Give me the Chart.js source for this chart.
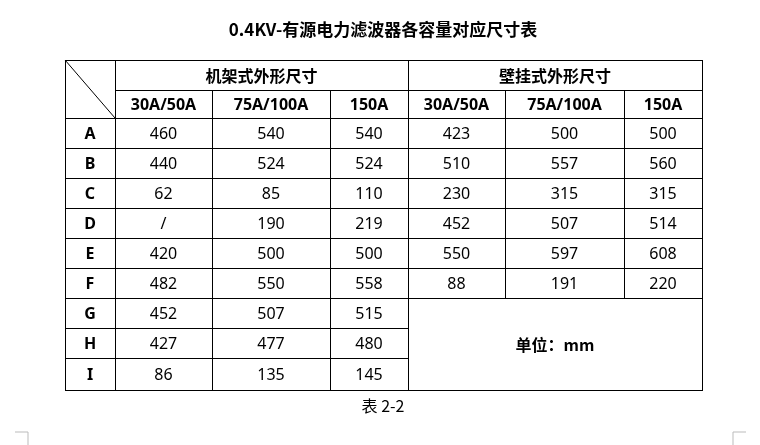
<!DOCTYPE html>
<html><head><meta charset="utf-8">
<script src="https://cdn.jsdelivr.net/npm/chart.js"></script>
<style>html,body{margin:0;padding:0;background:#fff}#w{width:760px;height:445px}</style>
</head><body><div id="w"><canvas id="c"></canvas></div>
<script>
const title = "0.4KV-有源电力滤波器各容量对应尺寸表";
const caption = "表 2-2";
const groups = ["机架式外形尺寸", "壁挂式外形尺寸"];
const sizes = ["30A/50A", "75A/100A", "150A", "30A/50A", "75A/100A", "150A"];
const rowLabels = ["A","B","C","D","E","F","G","H","I"];
const rackValues = [
  ["460","540","540"],["440","524","524"],["62","85","110"],["/","190","219"],
  ["420","500","500"],["482","550","558"],["452","507","515"],["427","477","480"],["86","135","145"]
];
const wallValues = [
  ["423","500","500"],["510","557","560"],["230","315","315"],["452","507","514"],
  ["550","597","608"],["88","191","220"]
];
const unitText = "单位：mm";

// layout (pixel-like units on hidden linear scales)
const colX = [65,115,212,330,408,505,624,702];
const rowY = [60,90,118,148,178,208,238,268,298,328,358,390];

const tablePlugin = {
  id:'table',
  afterDraw(chart){
    const ctx = chart.ctx, xs = chart.scales.x, ys = chart.scales.y;
    const X = v=>xs.getPixelForValue(v), Y = v=>ys.getPixelForValue(v);
    const CJK = '"Noto Sans CJK SC", "Noto Sans", sans-serif';
    const NUM = '"Noto Sans", "Open Sans", sans-serif';
    ctx.save();
    ctx.strokeStyle = '#000'; ctx.lineWidth = 1; ctx.fillStyle = '#000';
    ctx.textAlign = 'center'; ctx.textBaseline = 'middle';
    function cell(c0,c1,r0,r1,text,font){
      const x0=X(colX[c0]),x1=X(colX[c1]),y0=Y(rowY[r0]),y1=Y(rowY[r1]);
      ctx.strokeRect(Math.round(x0)+0.5,Math.round(y0)+0.5,Math.round(x1-x0),Math.round(y1-y0));
      if(text!==undefined){ctx.font=font;ctx.fillText(text,(x0+x1)/2,(y0+y1)/2+1);}
    }
    // title
    ctx.font = 'bold 17px '+CJK;
    ctx.fillText(title, X(383), Y(30));
    // corner
    cell(0,1,0,2);
    ctx.beginPath(); ctx.moveTo(X(colX[0]),Y(rowY[0])); ctx.lineTo(X(colX[1]),Y(rowY[2])); ctx.stroke();
    cell(1,4,0,1,groups[0],'bold 16px '+CJK);
    cell(4,7,0,1,groups[1],'bold 16px '+CJK);
    sizes.forEach((s,i)=>cell(i+1,i+2,1,2,s,'bold 16px '+NUM));
    rowLabels.forEach((l,r)=>{
      cell(0,1,r+2,r+3,l,'bold 16px '+NUM);
      rackValues[r].forEach((v,c)=>cell(c+1,c+2,r+2,r+3,v,'16px '+NUM));
      if(r<wallValues.length) wallValues[r].forEach((v,c)=>cell(c+4,c+5,r+2,r+3,v,'16px '+NUM));
    });
    cell(4,7,2+wallValues.length,2+rowLabels.length,unitText,'bold 16px '+CJK);
    ctx.font = '16px '+CJK;
    ctx.fillText(caption, X(383), Y(406));
    // page corner marks
    ctx.strokeStyle='#bbb';
    ctx.beginPath();
    ctx.moveTo(X(28),Y(432));ctx.lineTo(X(28),Y(445));
    ctx.moveTo(X(15),Y(432));ctx.lineTo(X(28),Y(432));
    ctx.moveTo(X(733),Y(432));ctx.lineTo(X(733),Y(445));
    ctx.moveTo(X(733),Y(432));ctx.lineTo(X(746),Y(432));
    ctx.stroke();
    ctx.restore();
  }
};

new Chart(document.getElementById('c'),{
  type:'scatter',
  data:{datasets:[{data:[]}]},
  options:{
    responsive:true, maintainAspectRatio:false, animation:false,
    layout:{padding:0},
    plugins:{legend:{display:false},tooltip:{enabled:false}},
    scales:{
      x:{type:'linear',min:0,max:760,display:false},
      y:{type:'linear',min:0,max:445,reverse:true,display:false}
    }
  },
  plugins:[tablePlugin]
});
</script></body></html>
